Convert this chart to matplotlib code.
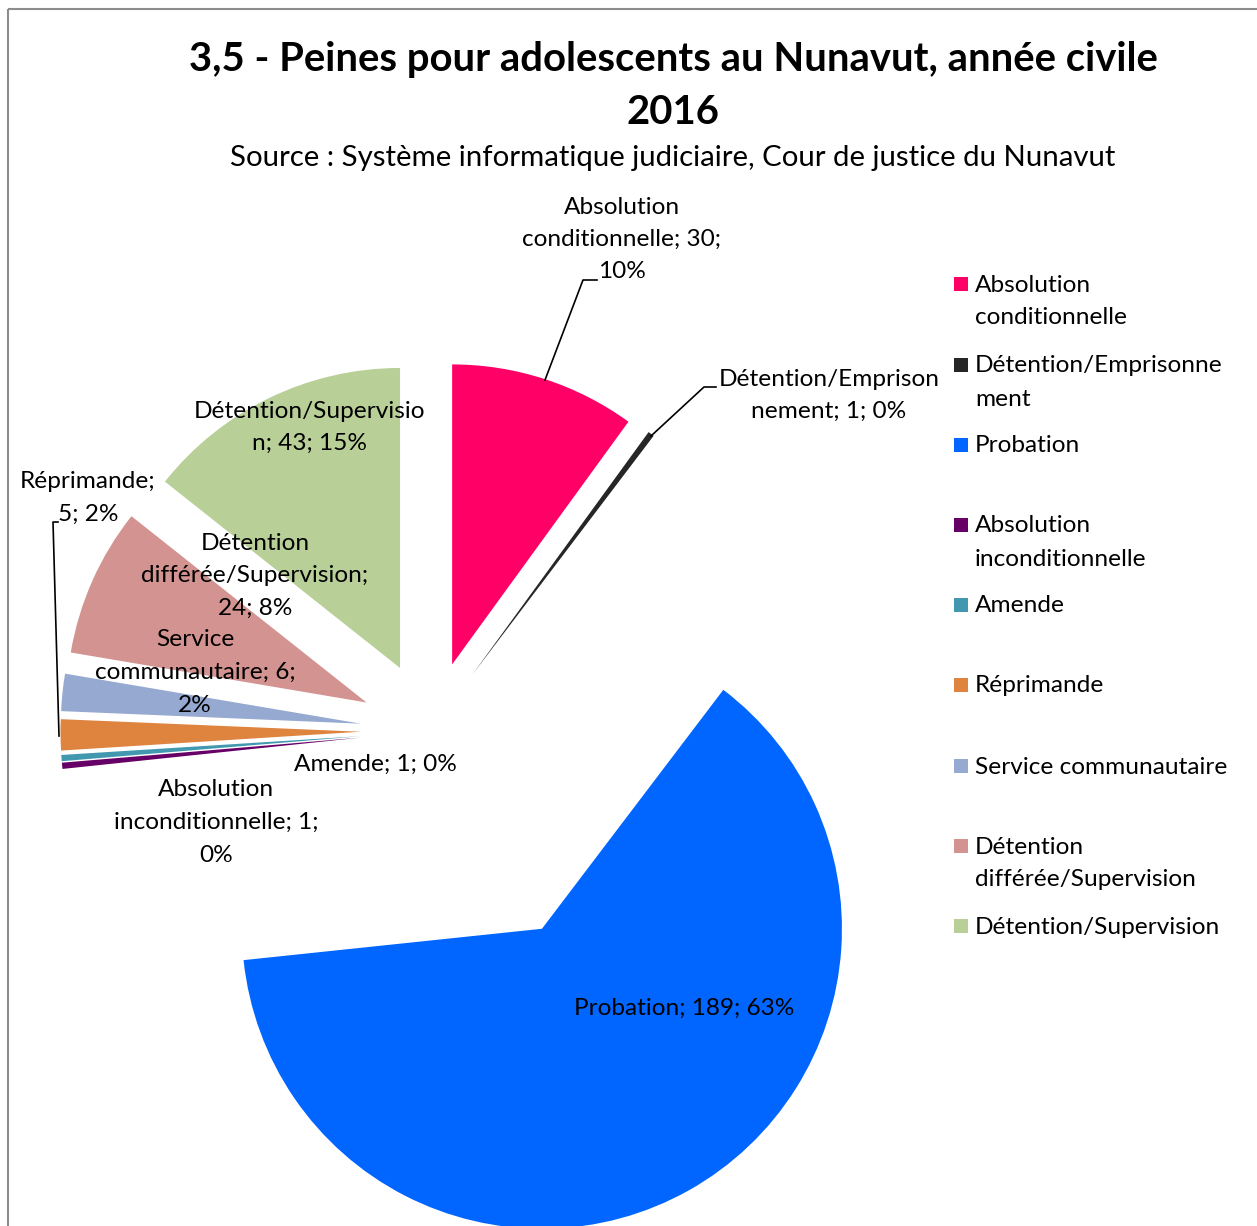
import matplotlib
matplotlib.use("Agg")
import matplotlib.pyplot as plt
from matplotlib.patches import Rectangle

W, H = 1257, 1226

categories = ["Absolution conditionnelle", "Détention/Emprisonnement", "Probation",
              "Absolution inconditionnelle", "Amende", "Réprimande",
              "Service communautaire", "Détention différée/Supervision",
              "Détention/Supervision"]
values = [30, 1, 189, 1, 1, 5, 6, 24, 43]
percents = ["10%", "0%", "63%", "0%", "0%", "2%", "2%", "8%", "15%"]
colors = ["#FF0066", "#262626", "#0066FF", "#660066", "#4198AF",
          "#DE843F", "#95A9D1", "#D39391", "#B9CF98"]
legend_labels = ["Absolution\nconditionnelle", "Détention/Emprisonne\nment", "Probation",
                 "Absolution\ninconditionnelle", "Amende", "Réprimande",
                 "Service communautaire", "Détention\ndifférée/Supervision",
                 "Détention/Supervision"]
# data labels as wrapped in the chart
data_labels = ["Absolution\nconditionnelle; 30;\n10%", "Détention/Emprison\nnement; 1; 0%",
               "Probation; 189; 63%", "Absolution\ninconditionnelle; 1;\n0%",
               "Amende; 1; 0%", "Réprimande;\n5; 2%", "Service\ncommunautaire; 6;\n2%",
               "Détention\ndifférée/Supervision;\n24; 8%", "Détention/Supervisio\nn; 43; 15%"]
title_lines = ["3,5 - Peines pour adolescents au Nunavut, année civile", "2016"]
subtitle = "Source : Système informatique judiciaire, Cour de justice du Nunavut"

FONT = "Lato"
plt.rcParams["font.family"] = [FONT, "DejaVu Sans"]

fig = plt.figure(figsize=(W / 100, H / 100), dpi=100)
ax = fig.add_axes([0, 0, 1, 1])

def Y(y):
    return H - y

R = 300
explode = [70, 70, 227, 70, 70, 70, 70, 70, 70]
wedges, _ = ax.pie(values, colors=colors, startangle=90, counterclock=False,
                   radius=R, center=(430.5, Y(731)), explode=explode,
                   wedgeprops=dict(linewidth=0))
ax.set_xlim(0, W)
ax.set_ylim(0, H)
ax.set_aspect("equal")
ax.axis("off")

# border
ax.plot([8, 8], [Y(9), 0], color="#8C8C8C", lw=1.5, solid_capstyle="butt")
ax.plot([8, W], [Y(9), Y(9)], color="#8C8C8C", lw=1.5, solid_capstyle="butt")

# title
ax.text(673, Y(59), title_lines[0], ha="center", va="center", fontsize=28.8,
        fontweight="bold", color="black")
ax.text(673, Y(112), title_lines[1], ha="center", va="center", fontsize=28.8,
        fontweight="bold", color="black")
ax.text(672.5, Y(158), subtitle, ha="center", va="center", fontsize=21.2, color="black")

LBL = 17.6
PITCH = 32.5

def multiline(x, y0, text, fs=LBL, pitch=PITCH):
    for i, line in enumerate(text.split("\n")):
        ax.text(x, Y(y0 + i * pitch), line, ha="center", va="center",
                fontsize=fs, color="black")

label_pos = [(622, 207), (829, 379), (684, 1008), (216, 790), (375, 764),
             (88, 482), (195, 640), (255, 543), (309, 411)]
for txt, (x, y) in zip(data_labels, label_pos):
    multiline(x, y, txt)

# leader lines
lk = dict(color="black", lw=1.2)
ax.plot([545, 583, 597], [Y(380), Y(280), Y(280)], **lk)
ax.plot([651, 704, 716], [Y(436), Y(387), Y(387)], **lk)
ax.plot([59, 53, 58], [Y(736), Y(522), Y(522)], **lk)

# legend
leg_y = [284, 365, 445, 525, 605, 685, 766, 846, 926]
for lab, col, y in zip(legend_labels, colors, leg_y):
    ax.add_patch(Rectangle((954, Y(y) - 7), 14, 14, facecolor=col, edgecolor="none"))
    for i, line in enumerate(lab.split("\n")):
        ax.text(975, Y(y + 1 + i * 33), line, ha="left", va="center", fontsize=LBL, color="black")

fig.savefig("out.png", dpi=100)
